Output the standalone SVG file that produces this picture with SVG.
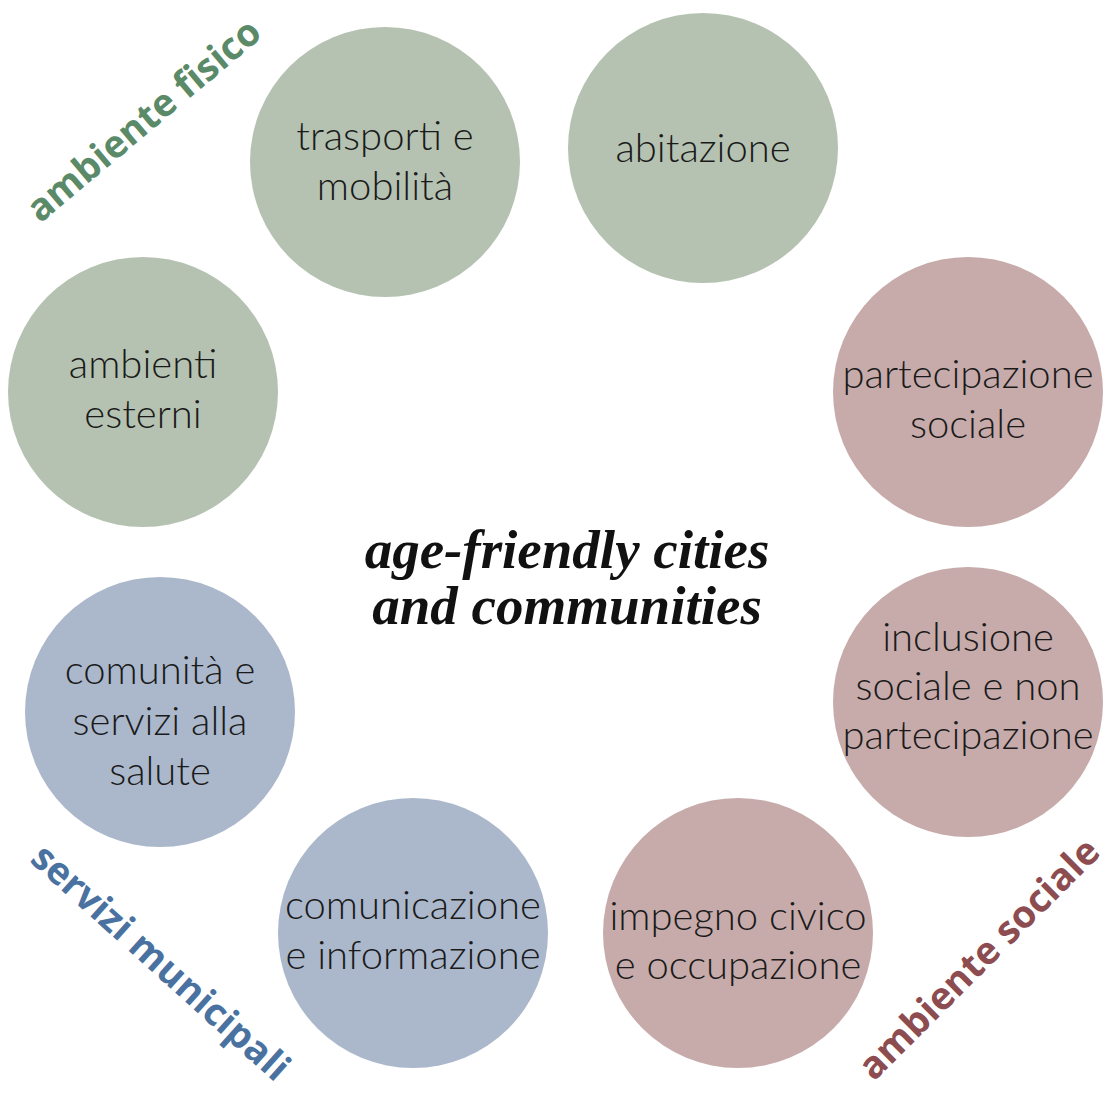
<svg xmlns="http://www.w3.org/2000/svg" width="1109" height="1095" viewBox="0 0 1109 1095">
<style>
.n{font-family:Lato,"Open Sans","Liberation Sans",sans-serif;font-weight:300;font-size:40px;fill:#1a1a1a;text-anchor:middle}
.g{fill:#b5c2b1}.p{fill:#c7abaa}.b{fill:#abb8cb}
.t{font-family:"Liberation Serif","DejaVu Serif",serif;font-weight:700;font-style:italic;font-size:55px;fill:#111;text-anchor:middle}
.lab{font-family:"Open Sans","Liberation Sans",sans-serif;font-weight:700;font-size:38px;text-anchor:middle}
</style>
<rect width="1109" height="1095" fill="#fff"/>
<g id="connectors"></g>
<g id="n-trasporti"><circle class="g" cx="385" cy="162" r="135"/><text class="n" x="385" y="150">trasporti e</text><text class="n" x="385" y="200">mobilità</text></g>
<g id="n-abitazione"><circle class="g" cx="703" cy="148" r="135"/><text class="n" x="703" y="162">abitazione</text></g>
<g id="n-partecipazione"><circle class="p" cx="968" cy="392" r="135"/><text class="n" x="968" y="388">partecipazione</text><text class="n" x="968" y="438">sociale</text></g>
<g id="n-inclusione"><circle class="p" cx="968" cy="702" r="135"/><text class="n" x="968" y="651">inclusione</text><text class="n" x="968" y="700">sociale e non</text><text class="n" x="968" y="749">partecipazione</text></g>
<g id="n-impegno"><circle class="p" cx="738" cy="933" r="135"/><text class="n" x="738" y="930">impegno civico</text><text class="n" x="738" y="979">e occupazione</text></g>
<g id="n-comunicazione"><circle class="b" cx="413" cy="933" r="135"/><text class="n" x="413" y="919">comunicazione</text><text class="n" x="413" y="969">e informazione</text></g>
<g id="n-comunita"><circle class="b" cx="160" cy="712" r="135"/><text class="n" x="160" y="684">comunità e</text><text class="n" x="160" y="735">servizi alla</text><text class="n" x="160" y="785">salute</text></g>
<g id="n-ambienti"><circle class="g" cx="143" cy="392" r="135"/><text class="n" x="143" y="378">ambienti</text><text class="n" x="143" y="428">esterni</text></g>
<g id="title"><text class="t" x="567" y="568">age-friendly cities</text><text class="t" x="567" y="624">and communities</text></g>
<g id="labels">
<text class="lab" fill="#5a8a68" transform="translate(152,130) rotate(-40)">ambiente fisico</text>
<text class="lab" fill="#4a72a0" transform="translate(152,972) rotate(42)">servizi municipali</text>
<text class="lab" fill="#8c4c50" transform="translate(988,968) rotate(-45)">ambiente sociale</text>
</g>
</svg>
